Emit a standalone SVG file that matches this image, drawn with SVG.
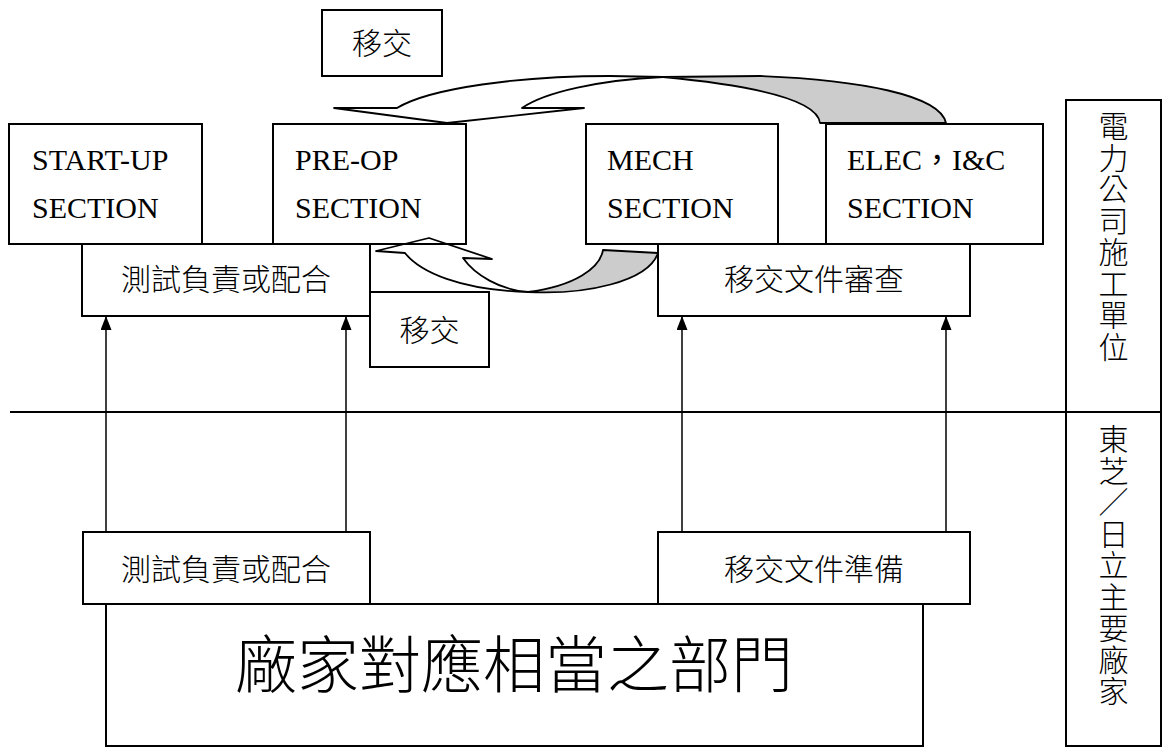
<svg xmlns="http://www.w3.org/2000/svg" width="1171" height="749" viewBox="0 0 1171 749">
<style>
.box{fill:none;stroke:#000;stroke-width:2}
.en{font-family:"Liberation Serif","Noto Sans CJK TC",serif;font-size:30px;fill:#000}
.zh{font-family:"Noto Sans CJK TC","Noto Sans CJK SC",sans-serif;font-size:30px;font-weight:300;fill:#000;text-anchor:middle}
.vt{font-family:"Noto Sans CJK TC","Noto Sans CJK SC",sans-serif;font-size:30px;font-weight:300;fill:#000;writing-mode:vertical-rl;letter-spacing:1.5px}
.big{font-family:"Noto Sans CJK TC","Noto Sans CJK SC",sans-serif;font-size:62px;font-weight:300;fill:#000;text-anchor:middle}
.conn{stroke:#000;stroke-width:1.5;fill:none}
.band{stroke:#000;stroke-width:1.8;stroke-linejoin:round}
</style>
<defs>
<marker id="ah" markerUnits="userSpaceOnUse" markerWidth="14" markerHeight="11" refX="14" refY="5.5" orient="auto">
<path d="M0,0 L14,5.5 L0,11 Z" fill="#000"/>
</marker>
</defs>
<g id="connectors">
<path class="band" fill="#fff" d="M397,108 C430,88 520,76 610,76 L663,77 C600,80 545,92 522,108 L584,108 L447,123 L334,108 Z"/>
<path class="band" fill="#cccccc" d="M663,77 L760,76 C860,80 940,95 946,123 L820,123 C818,105 780,88 663,77 Z"/>
<path class="band" fill="#fff" d="M405,253 C420,272 460,290 528,292 C500,290 475,275 463,258 L492,259 L429,238 L376,251 Z"/>
<path class="band" fill="#cccccc" d="M528,292 C585,295 648,282 658,253 L603,250 C600,268 575,286 528,292 Z"/>
<line class="conn" x1="106" y1="532" x2="106" y2="316" marker-end="url(#ah)"/>
<line class="conn" x1="346" y1="532" x2="346" y2="316" marker-end="url(#ah)"/>
<line class="conn" x1="682" y1="532" x2="682" y2="316" marker-end="url(#ah)"/>
<line class="conn" x1="946" y1="532" x2="946" y2="316" marker-end="url(#ah)"/>
<line x1="10" y1="412" x2="1161" y2="412" stroke="#000" stroke-width="2"/>
</g>
<g id="label-transfer-top">
<rect class="box" x="322" y="10" width="120" height="66"/>
<text class="zh" x="382" y="54">移交</text>
</g>
<g id="label-transfer-bottom">
<rect class="box" x="370" y="292" width="119" height="75"/>
<text class="zh" x="429.5" y="341">移交</text>
</g>
<g id="startup">
<rect class="box" x="9" y="124" width="193" height="120"/>
<text class="en" x="32" y="170">START-UP</text>
<text class="en" x="32" y="218">SECTION</text>
</g>
<g id="preop">
<rect class="box" x="273" y="124" width="193" height="120"/>
<text class="en" x="295" y="170">PRE-OP</text>
<text class="en" x="295" y="218">SECTION</text>
</g>
<g id="mech">
<rect class="box" x="586" y="124" width="192" height="120"/>
<text class="en" x="607" y="170">MECH</text>
<text class="en" x="607" y="218">SECTION</text>
</g>
<g id="elec">
<rect class="box" x="826" y="124" width="217" height="120"/>
<text class="en" x="847" y="170">ELEC，I&amp;C</text>
<text class="en" x="847" y="218">SECTION</text>
</g>
<g id="test-top">
<rect class="box" x="82" y="244" width="288" height="72"/>
<text class="zh" x="226" y="290">測試負責或配合</text>
</g>
<g id="review">
<rect class="box" x="658" y="244" width="312" height="72"/>
<text class="zh" x="814" y="290">移交文件審查</text>
</g>
<g id="test-bottom">
<rect class="box" x="83" y="532" width="287" height="72"/>
<text class="zh" x="226" y="580">測試負責或配合</text>
</g>
<g id="prepare">
<rect class="box" x="658" y="532" width="312" height="72"/>
<text class="zh" x="814" y="580">移交文件準備</text>
</g>
<g id="vendor">
<rect class="box" x="106" y="604" width="817" height="142"/>
<text class="big" x="514" y="688">廠家對應相當之部門</text>
</g>
<g id="column">
<rect class="box" x="1066" y="100" width="95" height="646"/>
<text class="vt" x="1113.5" y="111">電力公司施工單位</text>
<text class="vt" x="1113.5" y="424">東芝／日立主要廠家</text>
</g>
</svg>
